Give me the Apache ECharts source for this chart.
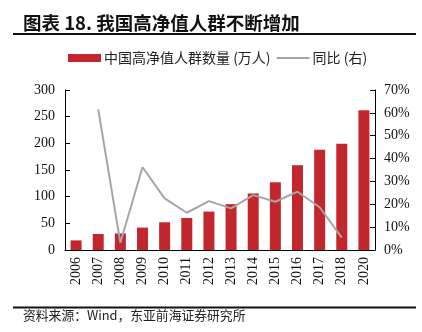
<!DOCTYPE html>
<html><head><meta charset="utf-8">
<script src="https://cdn.jsdelivr.net/npm/echarts@6/dist/echarts.min.js"></script>
<style>html,body{margin:0;padding:0;background:#fff}#c{width:422px;height:332px}</style>
</head><body><div id="c"></div>
<script>
const categories = ['2006','2007','2008','2009','2010','2011','2012','2013','2014','2015','2016','2017','2018','2020'];
const hnwCount = [18, 30, 31, 42, 52, 60, 72, 86, 106, 127, 159, 188, 199, 262];
const yoyPct = [null, 61.5, 3.2, 36.2, 22.6, 16.3, 21.4, 18.2, 24.0, 21.1, 25.5, 18.7, 5.4, null];
const leftTicks = {min: 0, max: 300, interval: 50};
const rightTicks = {min: 0, max: 70, interval: 10};

const serif = '"Liberation Serif", "Times New Roman", serif';
const cjk = '"Noto Sans CJK SC", sans-serif';
const chart = echarts.init(document.getElementById('c'), null, {renderer: 'canvas'});
chart.setOption({
  animation: false,
  backgroundColor: '#fff',
  grid: {left: 65, right: 47, top: 90, bottom: 82},
  legend: {
    left: 68, top: 51, padding: 0, itemWidth: 33, itemHeight: 8, itemGap: 5,
    textStyle: {fontFamily: cjk, fontSize: 14, color: '#222', padding: [0,0,0,-2]},
    data: [{name: '中国高净值人群数量 (万人)', icon: 'rect'}, {name: '同比 (右)', itemStyle: {opacity: 0}}]
  },
  xAxis: {
    type: 'category', data: categories,
    axisLine: {lineStyle: {color: '#000', width: 1}},
    axisTick: {show: false},
    axisLabel: {rotate: 90, color: '#111', fontFamily: serif, fontSize: 14, margin: 7}
  },
  yAxis: [
    {type: 'value', min: leftTicks.min, max: leftTicks.max, interval: leftTicks.interval,
     axisLine: {show: true, lineStyle: {color: '#000'}},
     axisTick: {show: true, inside: true, length: 5, lineStyle: {color: '#000'}},
     splitLine: {show: false},
     axisLabel: {color: '#111', fontFamily: serif, fontSize: 14, margin: 10}},
    {type: 'value', min: rightTicks.min, max: rightTicks.max, interval: rightTicks.interval,
     axisLine: {show: true, lineStyle: {color: '#000'}},
     axisTick: {show: true, inside: true, length: 5, lineStyle: {color: '#000'}},
     splitLine: {show: false},
     axisLabel: {color: '#111', fontFamily: serif, fontSize: 14, margin: 9, formatter: '{value}%'}}
  ],
  series: [
    {name: '中国高净值人群数量 (万人)', type: 'bar', data: hnwCount, barWidth: 11,
     itemStyle: {color: '#C1272D'}},
    {name: '同比 (右)', type: 'line', yAxisIndex: 1, data: yoyPct, symbol: 'none',
     connectNulls: false, lineStyle: {color: '#A6A6A6', width: 2}, itemStyle: {color: '#A6A6A6'}}
  ],
  graphic: [
    {type: 'text', left: 23, top: 14, style: {text: '图表 18. 我国高净值人群不断增加', font: 'bold 18.5px "Noto Sans CJK SC", sans-serif', fill: '#111'}},
    {type: 'rect', shape: {x: 13, y: 33, width: 403, height: 2}, style: {fill: '#111'}},
    {type: 'rect', shape: {x: 13, y: 306.5, width: 403, height: 2}, style: {fill: '#111'}},
    {type: 'text', left: 23, top: 309, style: {text: '资料来源：Wind，东亚前海证券研究所', font: '12.8px "Noto Sans CJK SC", sans-serif', fill: '#222'}}
  ]
});
</script></body></html>
